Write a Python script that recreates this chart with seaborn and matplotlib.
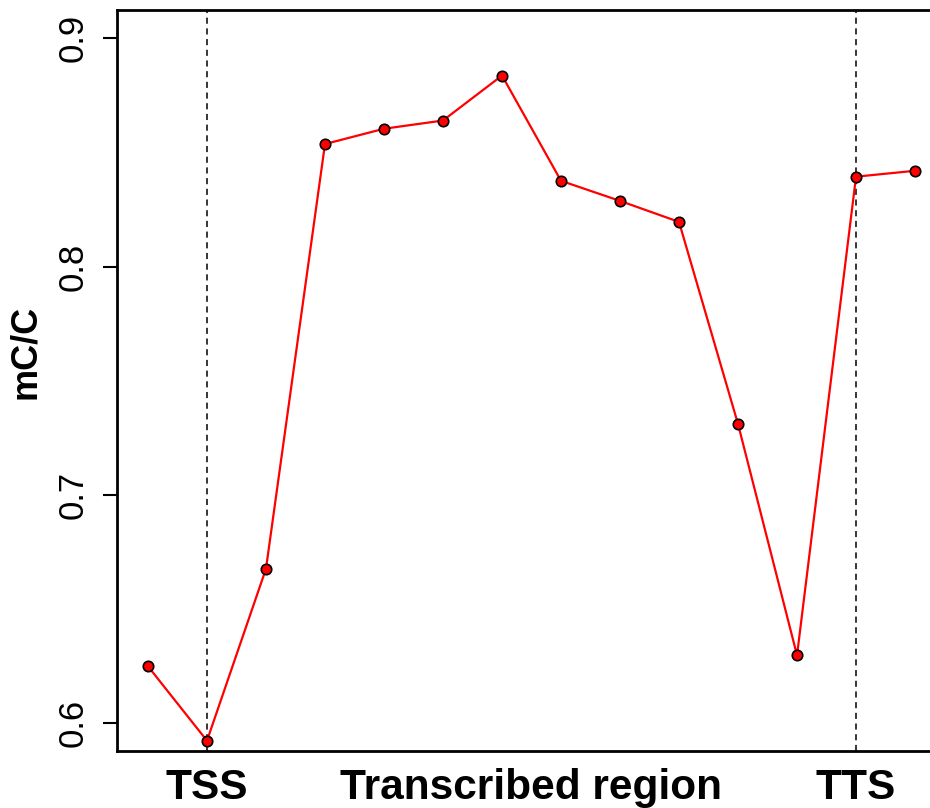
import matplotlib
matplotlib.use("Agg")
import matplotlib.pyplot as plt
import seaborn as sns
import pandas as pd

# data
positions = list(range(14))
methylation = [0.625, 0.5924, 0.6677, 0.8537, 0.8604, 0.8640, 0.8837,
               0.8376, 0.8288, 0.8196, 0.7311, 0.6298, 0.8394, 0.8420]
region_labels = ["TSS", "Transcribed region", "TTS"]
region_label_pos = [1, 6.5, 12]
boundary_pos = [1, 12]
y_ticks = [0.6, 0.7, 0.8, 0.9]

sns.set_style("white")
plt.rcParams["font.family"] = ["Liberation Sans", "DejaVu Sans"]
plt.rcParams["text.color"] = "black"
plt.rcParams["xtick.color"] = "black"
plt.rcParams["ytick.color"] = "black"

df = pd.DataFrame({"pos": positions, "mc": methylation})

fig = plt.figure(figsize=(9.3, 8.08), dpi=100)
ax = fig.add_axes([117 / 930, 57 / 808, (946 - 117) / 930, 741 / 808])

for b in boundary_pos:
    ax.axvline(b, color="black", lw=1.1, ls=(0, (4, 3)), zorder=1)

sns.lineplot(data=df, x="pos", y="mc", ax=ax, color="red", lw=1.6,
             marker="o", markersize=7.5, markerfacecolor="red",
             markeredgecolor="black", markeredgewidth=1.2, zorder=3)

ax.set_xlim(-0.525, 13.525)
ax.set_ylim(0.5879, 0.9124)

ax.set_yticks(y_ticks)
ax.set_yticklabels([f"{v:.1f}" for v in y_ticks], rotation=90, va="center",
                   fontsize=25, color="black")
ax.tick_params(axis="y", length=10, width=1.5, pad=10, left=True, color="black")

ax.set_xticks(region_label_pos)
ax.set_xticklabels(region_labels, fontsize=30.5, fontweight="bold", color="black")
ax.tick_params(axis="x", length=0, pad=12)

ax.set_xlabel("")
ax.set_ylabel("")
fig.text(25.5 / 930, 1 - 352 / 808, "mC/C", rotation=90, fontsize=26,
         fontweight="bold", ha="center", va="center", color="black")

for name, s in ax.spines.items():
    s.set_visible(name != "right")
    s.set_color("black")
    s.set_linewidth(2)

fig.savefig("out.png", dpi=100)
